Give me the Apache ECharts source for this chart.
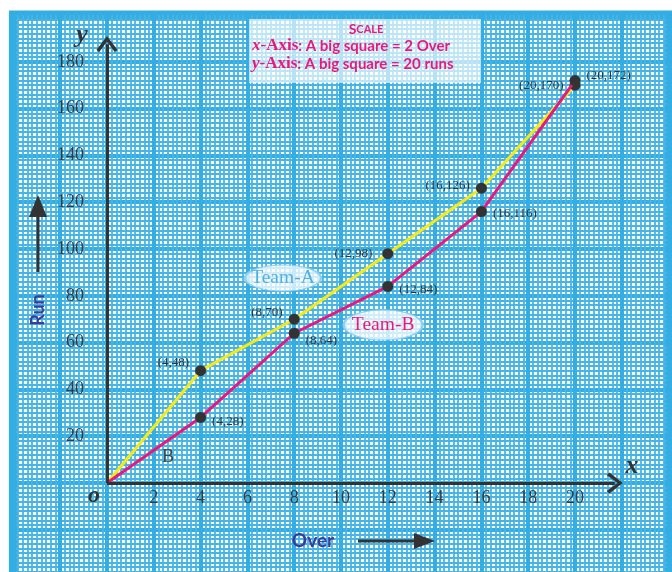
<!DOCTYPE html>
<html>
<head>
<meta charset="utf-8">
<script src="https://cdn.jsdelivr.net/npm/echarts@6/dist/echarts.min.js"></script>
<style>
  html, body { margin: 0; padding: 0; background: #fff; }
  #chart { width: 672px; height: 572px; }
</style>
</head>
<body>
<div id="chart"></div>
<script>
// data
const overs = [0, 4, 8, 12, 16, 20]
const teamA = [0, 48, 70, 98, 126, 170]
const teamB = [0, 28, 64, 84, 116, 172]
const xTickLabels = [2, 4, 6, 8, 10, 12, 14, 16, 18, 20]
const yTickLabels = [20, 40, 60, 80, 100, 120, 140, 160, 180]

// where each point's "(x,y)" label sits
const labelPosA = ['left', 'left', 'left', 'left', 'left', 'left']
const labelOffA = [[0, 0], [0, -8], [0, -7], [-4, 0], [0, -3], [0, 0]]
const labelPosB = ['right', 'right', 'right', 'right', 'right', 'right']
const labelOffB = [[0, 0], [0, 4], [0, 7], [0, 3], [0, 2], [0, -5]]

const BLUE = '#33ade2'
const PINK = '#e8197d'
const YELLOW = '#f4ea1a'
const DARK = '#333'
const SERIF = '"Liberation Serif", "DejaVu Serif", serif'
const SANS = 'Lato, "Open Sans", sans-serif'

const chevron = 'path://M10,0 L20,13 L17.5,15.5 L10,5 L2.5,15.5 L0,13 Z'
const ellipse = 'path://M0,50 A50,50 0 1,1 100,50 A50,50 0 1,1 0,50 Z'

const buildPoints = (ys, pos, off) =>
  overs.map((x, i) => ({
    value: [x, ys[i]],
    symbolSize: i === 0 ? 0 : 11,
    label: {
      show: i !== 0,
      position: pos[i],
      offset: off[i],
      distance: 6,
      formatter: '(' + x + ',' + ys[i] + ')'
    }
  }))

const pointLabel = {
  fontFamily: SERIF,
  fontSize: 13,
  color: '#333'
}

const chart = echarts.init(document.getElementById('chart'), null, { renderer: 'canvas' })

const paperAxis = {
  type: 'value',
  axisLine: { show: false },
  axisTick: { show: false },
  axisLabel: { show: false },
  minorTick: { show: false, splitNumber: 10 },
  splitLine: { show: true, lineStyle: { color: BLUE, width: 4 } },
  minorSplitLine: { show: true, lineStyle: { color: '#46b5e6', width: 1.8 } }
}

const tickFont = {
  fontFamily: SERIF,
  fontSize: 18,
  color: '#3a3a3a'
}

const option = {
  backgroundColor: '#fff',
  animation: false,
  grid: [
    {
      // the graph paper
      left: 13.4,
      top: 15,
      width: 655.2,
      height: 561.6,
      containLabel: false,
      outerBoundsMode: 'none',
      show: true,
      backgroundColor: '#fff',
      borderColor: BLUE,
      borderWidth: 9
    },
    {
      // the plotted quadrant, used only for tick labels
      left: 107,
      top: 61.8,
      width: 468,
      height: 421.2,
      containLabel: false,
      outerBoundsMode: 'none',
      show: false
    }
  ],
  xAxis: [
    Object.assign({}, paperAxis, { gridIndex: 0, min: -4, max: 24, interval: 2 }),
    {
      type: 'value',
      gridIndex: 1,
      min: 0,
      max: 20,
      interval: 2,
      axisLine: { show: false },
      axisTick: { show: false },
      splitLine: { show: false },
      axisLabel: Object.assign({
        margin: 6,
        formatter: v => (xTickLabels.includes(v) ? String(v) : '')
      }, tickFont)
    }
  ],
  yAxis: [
    Object.assign({}, paperAxis, { gridIndex: 0, min: -40, max: 200, interval: 20 }),
    {
      type: 'value',
      gridIndex: 1,
      min: 0,
      max: 180,
      interval: 20,
      axisLine: { show: false },
      axisTick: { show: false },
      splitLine: { show: false },
      axisLabel: Object.assign({
        margin: 23,
        formatter: v => (yTickLabels.includes(v) ? String(v) : ''),
        padding: [4, 0, 0, 0]
      }, tickFont)
    }
  ],
  series: [
    {
      name: 'Axes',
      type: 'line',
      xAxisIndex: 0,
      yAxisIndex: 0,
      data: [],
      silent: true,
      markLine: {
        silent: true,
        symbol: ['none', chevron],
        symbolSize: [21, 16],
        label: { show: false },
        lineStyle: { color: DARK, width: 3, type: 'solid' },
        data: [
          [{ coord: [0, 0] }, { coord: [0, 187.5] }],
          [{ coord: [0, 0] }, { coord: [21.7, 0] }]
        ]
      }
    },
    {
      name: 'Team-A',
      type: 'line',
      xAxisIndex: 0,
      yAxisIndex: 0,
      data: buildPoints(teamA, labelPosA, labelOffA),
      symbol: 'circle',
      itemStyle: { color: DARK },
      lineStyle: { color: YELLOW, width: 3 },
      label: pointLabel,
      z: 3,
      markPoint: {
        silent: true,
        symbol: ellipse,
        symbolSize: [76, 26],
        itemStyle: { color: 'rgba(255,255,255,0.75)', borderColor: '#8fd0ef', borderWidth: 1.5 },
        label: {
          show: true,
          position: 'inside',
          formatter: 'Team-A',
          fontFamily: SERIF,
          fontSize: 19.5,
          color: '#4fb0e0'
        },
        data: [{ coord: [7.52, 87.6] }]
      }
    },
    {
      name: 'Team-B',
      type: 'line',
      xAxisIndex: 0,
      yAxisIndex: 0,
      data: buildPoints(teamB, labelPosB, labelOffB),
      symbol: 'circle',
      itemStyle: { color: DARK },
      lineStyle: { color: PINK, width: 3 },
      label: pointLabel,
      z: 4,
      markPoint: {
        silent: true,
        symbol: ellipse,
        symbolSize: [79, 30],
        itemStyle: { color: 'rgba(255,255,255,0.75)', borderColor: '#8fd0ef', borderWidth: 1.5 },
        label: {
          show: true,
          position: 'inside',
          formatter: 'Team-B',
          fontFamily: SERIF,
          fontSize: 19.5,
          color: PINK
        },
        data: [{ coord: [11.8, 67.5] }]
      }
    }
  ],
  graphic: [
    // scale box
    {
      type: 'rect',
      z: 10,
      shape: { x: 249, y: 19, width: 232, height: 64 },
      style: { fill: 'rgba(255,255,255,0.65)' }
    },
    {
      type: 'text',
      z: 11,
      x: 366,
      y: 29,
      style: {
        text: '{a|S}{b|CALE}',
        align: 'center',
        verticalAlign: 'middle',
        rich: {
          a: { fontFamily: SANS, fontWeight: 'bold', fontSize: 14, fill: PINK },
          b: { fontFamily: SANS, fontWeight: 'bold', fontSize: 11, fill: PINK }
        }
      }
    },
    {
      type: 'text',
      z: 11,
      x: 252,
      y: 46,
      style: {
        text: '{i|x}{s|-Axis}{t|: A big square = 2 Over}',
        align: 'left',
        verticalAlign: 'middle',
        rich: {
          i: { fontFamily: SERIF, fontStyle: 'italic', fontWeight: 'bold', fontSize: 17, fill: PINK },
          s: { fontFamily: SERIF, fontWeight: 'bold', fontSize: 17, fill: PINK },
          t: { fontFamily: SANS, fontWeight: 'bold', fontSize: 15, fill: PINK }
        }
      }
    },
    {
      type: 'text',
      z: 11,
      x: 252,
      y: 64,
      style: {
        text: '{i|y}{s|-Axis}{t|: A big square = 20 runs}',
        align: 'left',
        verticalAlign: 'middle',
        rich: {
          i: { fontFamily: SERIF, fontStyle: 'italic', fontWeight: 'bold', fontSize: 17, fill: PINK },
          s: { fontFamily: SERIF, fontWeight: 'bold', fontSize: 17, fill: PINK },
          t: { fontFamily: SANS, fontWeight: 'bold', fontSize: 15, fill: PINK }
        }
      }
    },
    // axis letters
    {
      type: 'text', z: 11, x: 82, y: 35,
      style: { text: 'y', font: 'italic bold 26px ' + SERIF, fill: DARK, align: 'center', verticalAlign: 'middle' }
    },
    {
      type: 'text', z: 11, x: 632, y: 466,
      style: { text: 'x', font: 'italic bold 26px ' + SERIF, fill: DARK, align: 'center', verticalAlign: 'middle' }
    },
    {
      type: 'text', z: 11, x: 94, y: 496,
      style: { text: 'o', font: 'italic bold 24px ' + SERIF, fill: DARK, align: 'center', verticalAlign: 'middle' }
    },
    {
      type: 'text', z: 11, x: 168, y: 457,
      style: { text: 'B', font: '18px ' + SERIF, fill: '#444', align: 'center', verticalAlign: 'middle' }
    },
    // Run label and arrow
    {
      type: 'text', z: 11, x: 38, y: 310, rotation: Math.PI / 2,
      style: { text: 'Run', font: 'bold 18px ' + SANS, fill: '#3c3d9a', align: 'center', verticalAlign: 'middle' }
    },
    {
      type: 'line', z: 11,
      shape: { x1: 38, y1: 272, x2: 38, y2: 212 },
      style: { stroke: DARK, lineWidth: 3 }
    },
    {
      type: 'polygon', z: 11,
      shape: { points: [[38, 195], [29, 217], [47, 217]] },
      style: { fill: DARK }
    },
    // Over label and arrow
    {
      type: 'text', z: 11, x: 313, y: 541,
      style: { text: 'Over', font: 'bold 19px ' + SANS, fill: '#3c3d9a', align: 'center', verticalAlign: 'middle' }
    },
    {
      type: 'line', z: 11,
      shape: { x1: 358, y1: 541, x2: 418, y2: 541 },
      style: { stroke: DARK, lineWidth: 3 }
    },
    {
      type: 'polygon', z: 11,
      shape: { points: [[435, 541], [414, 533], [414, 549]] },
      style: { fill: DARK }
    }
  ]
}

chart.setOption(option)
</script>
</body>
</html>
